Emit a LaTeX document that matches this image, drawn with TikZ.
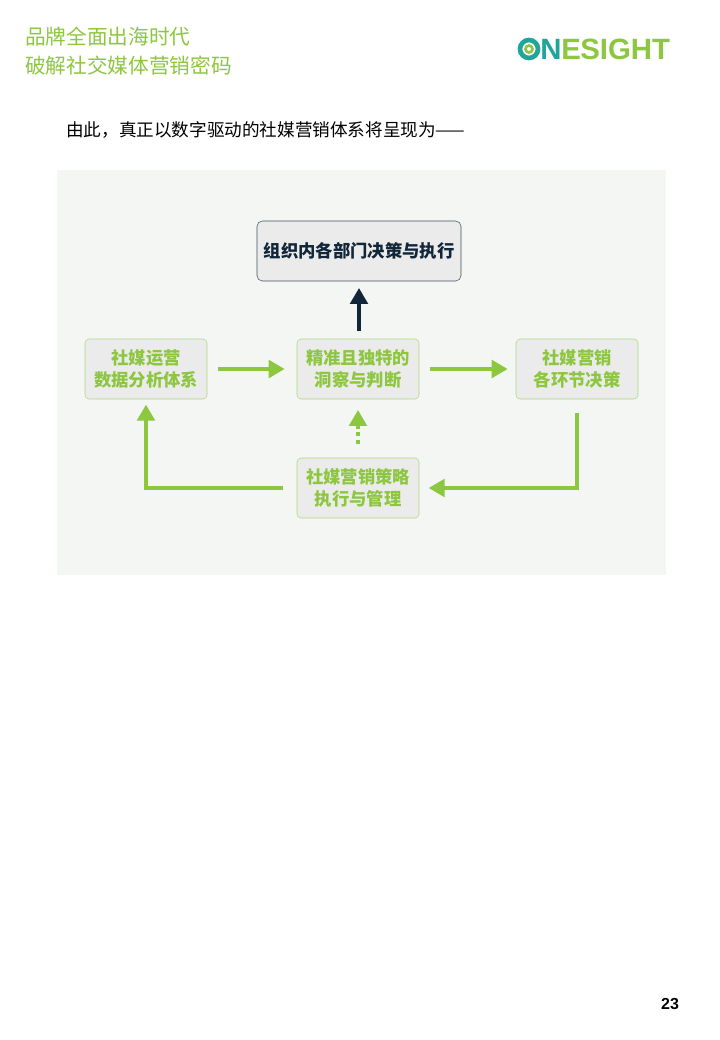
\documentclass[tikz,border=0pt]{standalone}
\usepackage{fontspec}
\setmainfont{Liberation Sans}
\newfontfamily\cjk{Noto Sans CJK SC}
\usetikzlibrary{positioning, arrows.meta}
\definecolor{osgreen}{HTML}{8DC63F}
\definecolor{osteal}{HTML}{1FA59A}
\definecolor{navy}{HTML}{12263A}
\definecolor{bgrey}{HTML}{F4F6F3}
\definecolor{boxgrey}{HTML}{EBEBEB}

\begin{document}
\begin{tikzpicture}[x=0.75pt,y=-0.75pt,
		gbox/.style={draw=osgreen!70,fill=boxgrey,rounded corners=3pt,minimum width=91.5pt,minimum height=45pt,
			align=center,font=\cjk\bfseries\fontsize{13}{17}\selectfont,text=osgreen},
		garrow/.style={osgreen,line width=3pt,-{Triangle[length=12pt,width=13pt]}}]
	\useasboundingbox (0,0) rectangle (720,1040);
	% header
	\node[anchor=west,font=\cjk\fontsize{15.5}{18}\selectfont,text=osgreen,inner sep=0pt] (head1) at (25,37) {品牌全面出海时代};
	\node[anchor=west,font=\cjk\fontsize{15.5}{18}\selectfont,text=osgreen,inner sep=0pt] (head2) at (25,66) {破解社交媒体营销密码};
	\draw[osteal,line width=3.5pt] (529,49) circle (9);
	\draw[osgreen,line width=2pt] (529,49) circle (3.5);
	\node[anchor=west,inner sep=0pt,font=\bfseries\fontsize{22}{22}\selectfont] (logo) at (540,49)
		{\textcolor{osteal}{N}\textcolor{osgreen}{E\kern-0.5pt SIGHT}};
	\node[anchor=west,font=\cjk\fontsize{13.2}{16}\selectfont,inner sep=0pt] (intro) at (66,130) {由此，真正以数字驱动的社媒营销体系将呈现为——};
	% diagram
	\fill[bgrey] (57,170) rectangle (666,575);
	\node[draw=navy!80,fill=boxgrey,rounded corners=4pt,minimum width=153pt,minimum height=45pt,
		font=\cjk\bfseries\fontsize{13}{16}\selectfont,text=navy] (org) at (359,251) {组织内各部门决策与执行};
	\node[gbox] (data) at (146,369) {社媒运营\\数据分析体系};
	\node[gbox] (insight) at (358,369) {精准且独特的\\洞察与判断};
	\node[gbox] (decide) at (577,369) {社媒营销\\各环节决策};
	\node[gbox] (exec) at (358,488) {社媒营销策略\\执行与管理};
	\draw[garrow] ([xshift=8pt]data.east) -- ([xshift=-9pt]insight.west);
	\draw[garrow] ([xshift=8pt]insight.east) -- ([xshift=-6pt]decide.west);
	\draw[navy,line width=3pt,-{Triangle[length=12pt,width=13pt]}] ([yshift=-37pt]org.south) -- ([yshift=-5pt]org.south);
	\draw[osgreen,line width=3pt,dash pattern=on 3pt off 3pt] ([yshift=10pt]exec.north) -- ([yshift=-22pt]insight.south);
	\draw[garrow,shorten >=0pt] ([yshift=-22pt]insight.south) -- ([yshift=-8pt]insight.south);
	\draw[garrow] ([yshift=-10pt]decide.south) |- ([xshift=20pt]exec.east) -- ([xshift=7pt]exec.east);
	\draw[garrow] ([xshift=-10pt]exec.west) -| ([yshift=-4pt]data.south);
	% page number
	\node[font=\bfseries\fontsize{12}{14}\selectfont] (page) at (670,1004) {23};
\end{tikzpicture}
\end{document}
